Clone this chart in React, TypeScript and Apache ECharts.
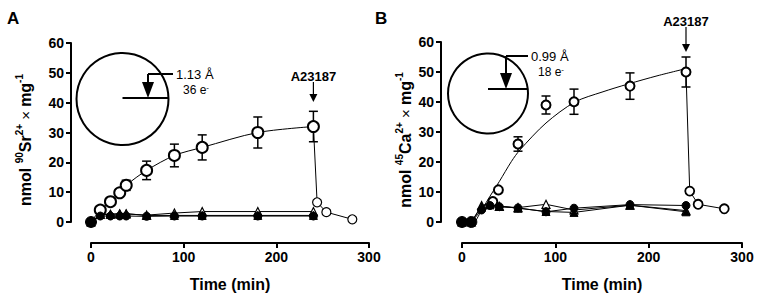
import React, { useEffect, useRef } from 'react';
import * as echarts from 'echarts';

const FONT = '"Liberation Sans", Arial, Helvetica, sans-serif';

// Panel A — 90Sr2+ uptake (nmol / mg)
const srTime = [0, 10, 21, 31, 38, 60, 90, 120, 180, 240];
const srOpenCircle = [0, 4, 6.8, 9.8, 12.3, 17.3, 22.3, 25, 30, 32];
const srOpenCircleErr = [0, 0, 0, 0.8, 1.7, 3.1, 3.8, 4.2, 5.2, 5.1];
const srOpenTriangle = [0, 2.6, 2.6, 2.7, 2.7, 2.3, 3.0, 3.5, 3.5, 3.5];
const srFilledTriangle = [0, 2.5, 2.6, 2.8, 2.8, 2.2, 2.2, 2.2, 2.2, 2.2];
const srFilledCircle = [0, 2.0, 2.0, 2.0, 2.0, 1.9, 2.0, 2.0, 2.0, 2.0];
const srReleaseTime = [240, 244, 254, 282];
const srRelease = [32, 6.6, 3.3, 0.9];

// Panel B — 45Ca2+ uptake (nmol / mg)
const caTime = [0, 10, 21, 30, 40, 60, 90, 120, 180, 240];
const caFilledCircle = [0, 0, 4.0, 5.5, 5.1, 4.7, 3.4, 4.6, 5.8, 5.5];
const caFilledTriangle = [0, 0, 5.1, 5.7, 5.3, 4.6, 3.5, 3.2, 5.6, 3.4];
const caOpenTriangle = [0, 0, 5.5, 6.2, 5.2, 4.8, 5.9, 4.0, 5.6, 3.8];
const caCircleTime = [0, 10, 33, 39, 60, 90, 120, 180, 240];
const caOpenCircle = [0, 0, 6.8, 10.7, 26, 39, 40.1, 45.3, 50];
const caOpenCircleErr = [0, 0, 0, 0, 2.4, 3.0, 4.2, 4.4, 5.0];
const caFitTime = [14, 22, 30, 40, 53, 62, 90, 121, 150, 178, 210, 241];
const caFit = [0, 4.4, 8.6, 13.5, 20.2, 24.0, 33, 40, 43.3, 46, 48.8, 51.2];
const caReleaseTime = [240, 244, 253, 281];
const caRelease = [50, 10.3, 5.9, 4.4];

const timeTicks = { min: 0, max: 300, interval: 100 };
const uptakeTicks = { min: 0, max: 60, interval: 10 };

const pairs = (xs: number[], ys: number[]) => xs.map((x, i) => [x, ys[i]]);

function makeX(gridIndex: number) {
  return {
    type: 'value',
    gridIndex,
    ...timeTicks,
    offset: 21,
    axisLine: { show: true, onZero: false, lineStyle: { color: '#000', width: 2 } },
    axisTick: { show: true, length: 5, lineStyle: { color: '#000', width: 2 } },
    axisLabel: { color: '#000', fontWeight: 'bold', fontSize: 14, margin: 7, fontFamily: FONT },
    splitLine: { show: false },
    name: 'Time (min)',
    nameLocation: 'middle',
    nameGap: 33,
    nameTextStyle: { color: '#000', fontWeight: 'bold', fontSize: 16, fontFamily: FONT },
  };
}

function makeY(gridIndex: number, offset: number) {
  return {
    type: 'value',
    gridIndex,
    ...uptakeTicks,
    offset,
    axisLine: { show: true, onZero: false, lineStyle: { color: '#000', width: 2 } },
    axisTick: { show: true, length: 5, lineStyle: { color: '#000', width: 2 } },
    axisLabel: { color: '#000', fontWeight: 'bold', fontSize: 14, margin: 7, fontFamily: FONT },
    splitLine: { show: false },
  };
}

function errorBars(idx: number, xs: number[], ys: number[], errs: number[], capHalf: number) {
  const data = xs
    .map((x, i) => [x, ys[i] - errs[i], ys[i] + errs[i]])
    .filter((d) => d[2] > d[1]);
  return {
    type: 'custom',
    xAxisIndex: idx,
    yAxisIndex: idx,
    data,
    encode: { x: 0, y: [1, 2] },
    z: 2,
    renderItem: (_p: any, api: any) => {
      const lo = api.coord([api.value(0), api.value(1)]);
      const hi = api.coord([api.value(0), api.value(2)]);
      const style = { stroke: '#000', lineWidth: 1.5 };
      return {
        type: 'group',
        children: [
          { type: 'line', shape: { x1: lo[0], y1: lo[1], x2: hi[0], y2: hi[1] }, style },
          { type: 'line', shape: { x1: lo[0] - capHalf, y1: lo[1], x2: lo[0] + capHalf, y2: lo[1] }, style },
          { type: 'line', shape: { x1: hi[0] - capHalf, y1: hi[1], x2: hi[0] + capHalf, y2: hi[1] }, style },
        ],
      };
    },
  };
}

// Baseline markers (value 0) overlap several series and read as one larger blob.
const baselineSize = (normal: number) => (v: number[]) => (v[1] === 0 ? normal + 3 : normal);

function markerLine(idx: number, data: number[][], symbol: string, filled: boolean, size: number, z = 3) {
  return {
    type: 'line',
    xAxisIndex: idx,
    yAxisIndex: idx,
    data,
    symbol,
    symbolSize: filled && symbol === 'circle' ? baselineSize(size) : size,
    showAllSymbol: true,
    z: filled && symbol === 'circle' ? z + 3 : z,
    lineStyle: { color: '#000', width: 1 },
    itemStyle: filled
      ? { color: '#000', borderColor: '#000', borderWidth: 1 }
      : { color: '#fff', borderColor: '#000', borderWidth: 1.2 },
  };
}

function releaseLine(idx: number, xs: number[], ys: number[], size: number, border: number) {
  const data = xs.map((x, i) => (i === 0 ? { value: [x, ys[i]], symbol: 'none' } : { value: [x, ys[i]] }));
  return {
    type: 'line',
    xAxisIndex: idx,
    yAxisIndex: idx,
    data,
    symbol: 'circle',
    symbolSize: size,
    showAllSymbol: true,
    z: 4,
    lineStyle: { color: '#000', width: 1 },
    itemStyle: { color: '#fff', borderColor: '#000', borderWidth: border },
  };
}

const supRich = {
  b: { fontSize: 16, fontWeight: 'bold', lineHeight: 22, fontFamily: FONT, fill: '#000', color: '#000' },
  x: { fontSize: 15, fontWeight: 'normal', lineHeight: 22, fontFamily: FONT, fill: '#000', color: '#000' },
  s: { fontSize: 10, fontWeight: 'bold', lineHeight: 10, verticalAlign: 'top', fontFamily: FONT, fill: '#000', color: '#000' },
};

const eRich = {
  n: { fontSize: 12, lineHeight: 14, fontFamily: FONT, fill: '#000', color: '#000' },
  s: { fontSize: 8, lineHeight: 8, verticalAlign: 'top', fontFamily: FONT, fill: '#000', color: '#000' },
};

function yTitle(cx: number, cy: number, isotope: string, ion: string) {
  return {
    type: 'text',
    x: cx,
    y: cy,
    rotation: Math.PI / 2,
    style: {
      text: `{b|nmol }{s|${isotope}}{b|${ion}}{s|2+}{x| × }{b|mg}{s|-1}`,
      rich: supRich,
      align: 'center',
      verticalAlign: 'middle',
    },
  };
}

function ionSketch(cx: number, cy: number, r: number, lineY: number, arrowX: number, topY: number, tabEnd: number, radius: string, electrons: string) {
  const headTop = lineY - 16;
  const stroke = { stroke: '#000', lineWidth: 2 };
  return [
    { type: 'circle', shape: { cx, cy, r }, style: { fill: 'none', ...stroke } },
    { type: 'line', shape: { x1: cx, y1: lineY, x2: cx + r, y2: lineY }, style: stroke },
    { type: 'line', shape: { x1: arrowX, y1: topY, x2: arrowX, y2: headTop + 1 }, style: stroke },
    { type: 'line', shape: { x1: arrowX, y1: topY, x2: tabEnd, y2: topY }, style: stroke },
    {
      type: 'polygon',
      shape: { points: [[arrowX - 6, headTop], [arrowX + 6, headTop], [arrowX, lineY]] },
      style: { fill: '#000' },
    },
    {
      type: 'text',
      x: tabEnd + 3,
      y: topY,
      style: { text: radius, fontSize: 13, fontFamily: FONT, fill: '#000', align: 'left', verticalAlign: 'middle' },
    },
    {
      type: 'text',
      x: tabEnd + 10,
      y: topY + 16,
      style: { text: `{n|${electrons} e}{s|-}`, rich: eRich, align: 'left', verticalAlign: 'middle' },
    },
  ];
}

function ionophoreMark(x: number, textY: number, lineTop: number, tipY: number) {
  return [
    {
      type: 'text',
      x,
      y: textY,
      style: { text: 'A23187', fontSize: 13, fontWeight: 'bold', fontFamily: FONT, fill: '#000', align: 'center', verticalAlign: 'middle' },
    },
    { type: 'line', shape: { x1: x, y1: lineTop, x2: x, y2: tipY - 7 }, style: { stroke: '#000', lineWidth: 1.2 } },
    { type: 'polygon', shape: { points: [[x - 4, tipY - 8], [x + 4, tipY - 8], [x, tipY]] }, style: { fill: '#000' } },
  ];
}

export default function App() {
  const ref = useRef<HTMLDivElement>(null);

  useEffect(() => {
    if (!ref.current) return;
    document.body.style.margin = '0';
    const chart = echarts.init(ref.current, null, { renderer: 'svg' });

    const option: any = {
      animation: false,
      textStyle: { fontFamily: FONT },
      grid: [
        { left: 91, top: 43, width: 278, height: 179 },
        { left: 462, top: 42, width: 280, height: 180 },
      ],
      xAxis: [makeX(0), makeX(1)],
      yAxis: [makeY(0, 20), makeY(1, 21)],
      series: [
        // Panel A
        errorBars(0, srTime, srOpenCircle, srOpenCircleErr, 4.5),
        markerLine(0, pairs(srTime, srOpenTriangle), 'triangle', false, 8),
        markerLine(0, pairs(srTime, srFilledTriangle), 'triangle', true, 8),
        markerLine(0, pairs(srTime, srFilledCircle), 'circle', true, 8),
        releaseLine(0, srReleaseTime, srRelease, 9, 1.2),
        {
          type: 'line',
          xAxisIndex: 0,
          yAxisIndex: 0,
          data: pairs(srTime, srOpenCircle),
          smooth: 0.3,
          symbol: 'circle',
          symbolSize: (v: number[]) => (v[1] === 0 ? 0 : 11),
          showAllSymbol: true,
          z: 5,
          lineStyle: { color: '#000', width: 1 },
          itemStyle: { color: '#fff', borderColor: '#000', borderWidth: 2 },
        },
        // Panel B
        errorBars(1, caCircleTime, caOpenCircle, caOpenCircleErr, 4.5),
        markerLine(1, pairs(caTime, caOpenTriangle), 'triangle', false, 8),
        markerLine(1, pairs(caTime, caFilledTriangle), 'triangle', true, 8),
        markerLine(1, pairs(caTime, caFilledCircle), 'circle', true, 8),
        {
          type: 'line',
          xAxisIndex: 1,
          yAxisIndex: 1,
          data: pairs(caFitTime, caFit),
          smooth: 0.3,
          symbol: 'none',
          z: 3,
          lineStyle: { color: '#000', width: 1 },
        },
        releaseLine(1, caReleaseTime, caRelease, 9, 1.8),
        {
          type: 'scatter',
          xAxisIndex: 1,
          yAxisIndex: 1,
          data: pairs(caCircleTime, caOpenCircle),
          symbol: 'circle',
          symbolSize: (v: number[]) => (v[1] === 0 ? 0 : 9),
          z: 5,
          itemStyle: { color: '#fff', borderColor: '#000', borderWidth: 2, opacity: 1 },
        },
      ],
    };
    chart.setOption(option);

    const xa = chart.convertToPixel({ gridIndex: 0 }, [240, 0])[0];
    const xb = chart.convertToPixel({ gridIndex: 1 }, [240, 0])[0];

    chart.setOption({
      graphic: [
        { type: 'text', x: 7, y: 10, style: { text: 'A', fontSize: 17, fontWeight: 'bold', fontFamily: FONT, fill: '#000' } },
        { type: 'text', x: 375, y: 10, style: { text: 'B', fontSize: 17, fontWeight: 'bold', fontFamily: FONT, fill: '#000' } },
        yTitle(25, 140, '90', 'Sr'),
        yTitle(405, 140, '45', 'Ca'),
        ...ionSketch(122.5, 99, 46, 98, 148, 74, 173, '1.13 Å', '36'),
        ...ionSketch(488, 93.5, 40, 89, 506, 56, 528, '0.99 Å', '18'),
        ...ionophoreMark(xa, 76, 82, 102),
        ...ionophoreMark(xb, 21, 27, 52),
      ],
    });

    return () => chart.dispose();
  }, []);

  return <div ref={ref} style={{ width: 760, height: 301 }} />;
}
